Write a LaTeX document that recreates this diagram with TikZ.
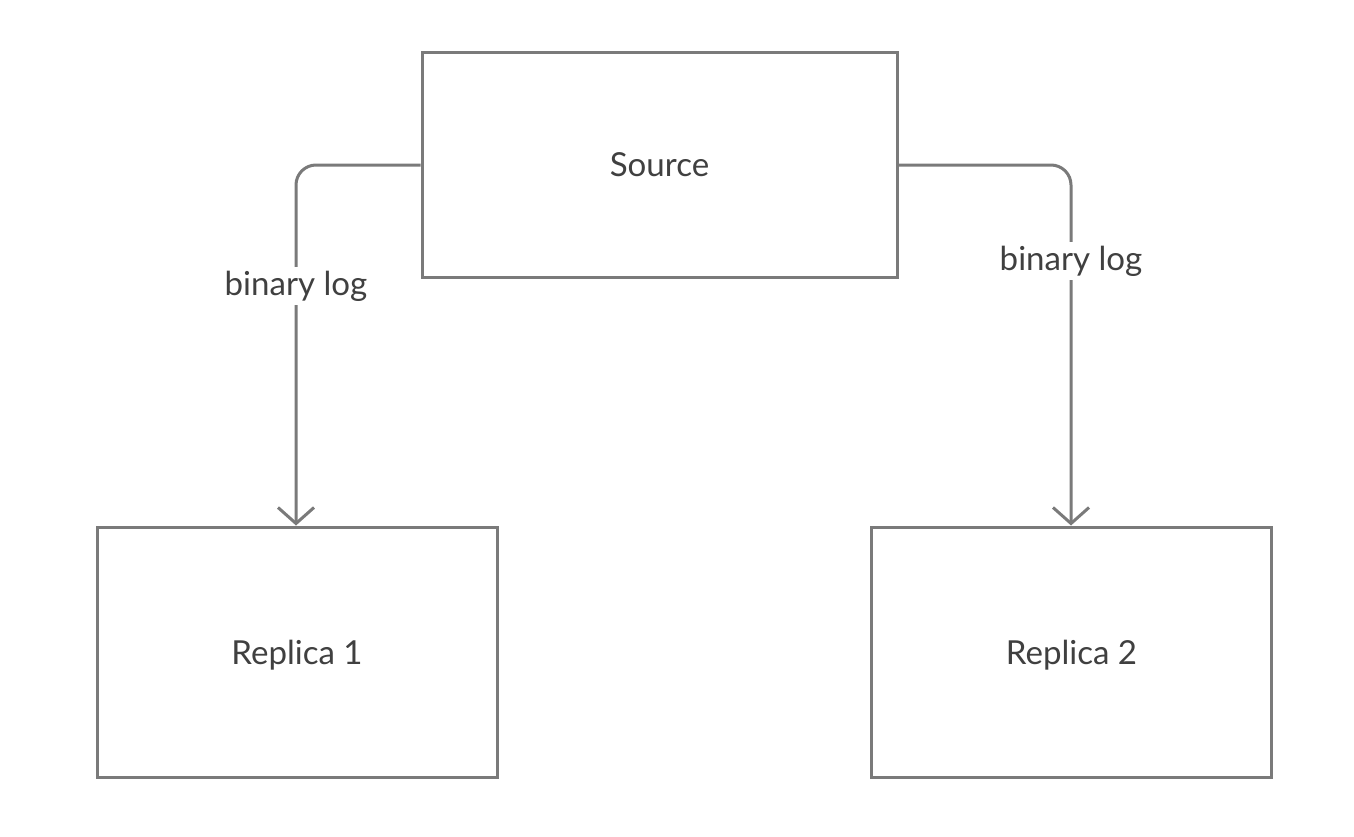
\documentclass[tikz,border=0pt]{standalone}
\usepackage{fontspec}
\setmainfont{Lato}
\usetikzlibrary{arrows.meta}
\definecolor{linegray}{HTML}{7A7A7A}
\definecolor{textgray}{HTML}{404040}
\tikzset{
  box/.style={draw=linegray, line width=2.25pt, fill=white, inner sep=0pt,
    text=textgray, font=\fontsize{24.8pt}{29pt}\selectfont, text depth=0pt},
  conn/.style={draw=linegray, line width=2.25pt, rounded corners=15pt,
    -{Straight Barb[length=12pt, width=27pt, line width=2.25pt]}},
  lbl/.style={fill=white, text=textgray, inner sep=3pt,
    font=\fontsize{24.8pt}{29pt}\selectfont},
}
\begin{document}
\begin{tikzpicture}[x=0.75pt, y=-0.75pt]
\useasboundingbox[fill=white] (0,0) rectangle (1354,836);
\node[box, minimum width=356.25pt, minimum height=168.75pt] (src) at (659.5,164.5) {Source};
\node[box, minimum width=300pt, minimum height=187.5pt] (r1) at (297,652) {Replica 1};
\node[box, minimum width=300pt, minimum height=187.5pt] (r2) at (1071.5,652) {Replica 2};
\coordinate (c1) at (296,165);
\coordinate (c2) at (1071,165);
\draw[conn] (src.west |- c1) -| (r1.north -| c1);
\draw[conn] (src.east |- c2) -| (r2.north -| c2);
\node[lbl] (l1) at (296,286) {binary log};
\node[lbl] (l2) at (1071,261) {binary log};
\end{tikzpicture}
\end{document}
